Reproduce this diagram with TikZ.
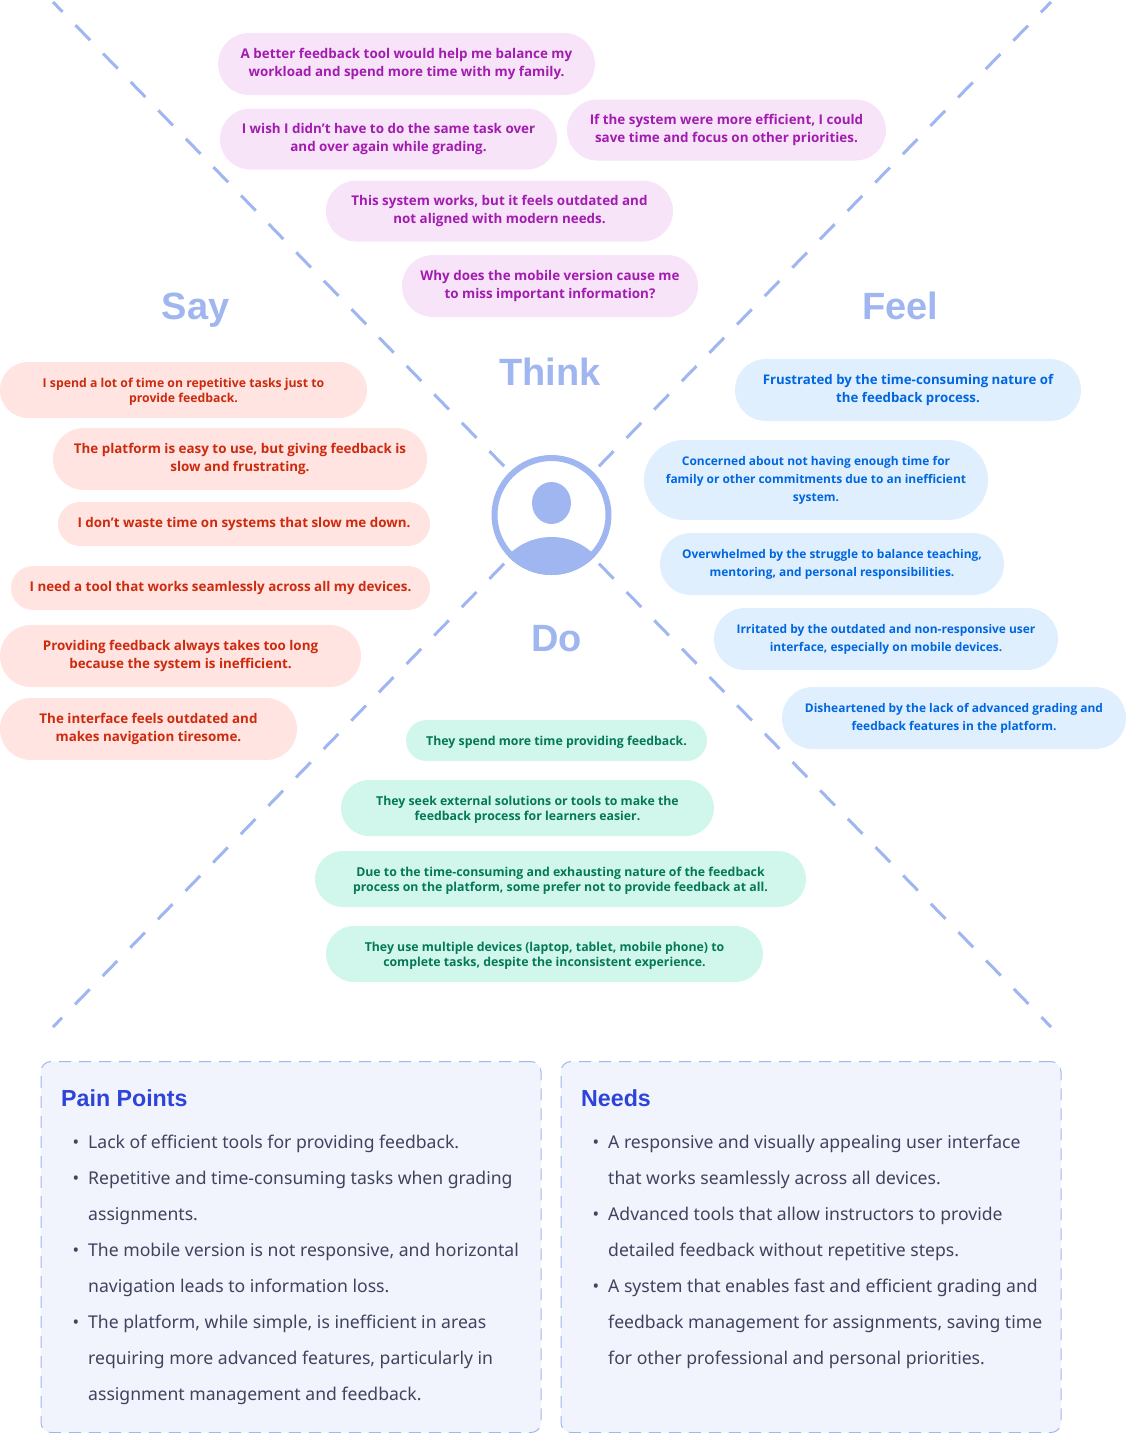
\documentclass[tikz,border=0pt]{standalone}
\usepackage{fontspec}
\setmainfont{Noto Sans}
\newfontfamily\bubblefont{Open Sans}
\newfontfamily\headfont{Liberation Sans}
\usetikzlibrary{positioning,shapes.misc}
\definecolor{lineblue}{HTML}{A0B6F0}
\definecolor{panelfill}{HTML}{F1F4FD}
\definecolor{panelhead}{HTML}{2E44D9}
\definecolor{paneltext}{HTML}{40435E}
\definecolor{thinkfill}{HTML}{F7E4F9}
\definecolor{thinktext}{HTML}{A21CAF}
\definecolor{sayfill}{HTML}{FFE4E1}
\definecolor{saytext}{HTML}{CC2B0E}
\definecolor{feelfill}{HTML}{DFEFFE}
\definecolor{feeltext}{HTML}{0066E0}
\definecolor{dofill}{HTML}{D1F7EC}
\definecolor{dotext}{HTML}{047857}
\newcommand{\dotitem}{\llap{\textbullet\hspace{9pt}}}
\newcommand{\lowerline}{\rule{0pt}{13pt}}
\tikzset{
  bubble/.style={shape=rounded rectangle,inner sep=0pt,align=center},
  thinkbubble/.style={bubble,fill=thinkfill,text=thinktext,font=\fontsize{13.4}{18}\selectfont\bubblefont\bfseries},
  saybubble/.style={bubble,fill=sayfill,text=saytext,font=\fontsize{13.4}{18}\selectfont\bubblefont\bfseries},
  feelbubble/.style={bubble,fill=feelfill,text=feeltext,font=\fontsize{11.95}{18}\selectfont\bubblefont\bfseries},
  dobubble/.style={bubble,fill=dofill,text=dotext,font=\fontsize{12.3}{15}\selectfont\bubblefont\bfseries},
  quadrant/.style={text=lineblue,font=\fontsize{38}{38}\selectfont\headfont\bfseries,inner sep=0pt},
  crossline/.style={lineblue,line width=3pt,dash pattern=on 21pt off 18.6pt,shorten <=8pt},
  panel/.style={draw=lineblue,fill=panelfill,line width=1pt,rounded corners=10pt,dash pattern=on 12pt off 8pt,minimum width=500pt,minimum height=371pt,inner sep=0pt},
  panelhead/.style={text=panelhead,font=\fontsize{23.2}{24}\selectfont\headfont\bfseries,inner sep=0pt,anchor=west},
  panelbody/.style={text=paneltext,font=\fontsize{17.6}{36}\selectfont,inner sep=0pt,align=left,anchor=north west},
}
\begin{document}
\begin{tikzpicture}[x=1pt,y=-1pt]
  \useasboundingbox (0,0) rectangle (1126,1433);
  % the person in the middle
  \node [circle,draw=lineblue,line width=6pt,minimum size=114pt,inner sep=0pt] (avatar) at (551.5,515) {};
  \fill [lineblue] (551.5,503) ellipse (19.5 and 21);
  \begin{scope}
    \clip (551.5,515) circle (60);
    \fill [lineblue] (551.5,598) circle (61);
  \end{scope}
  % dashed cross
  \coordinate (topleft) at (53,2);
  \coordinate (topright) at (1051,2);
  \coordinate (botleft) at (53,1027);
  \coordinate (botright) at (1051,1027);
  \draw [crossline] (avatar) -- (topleft);
  \draw [crossline] (avatar) -- (topright);
  \draw [crossline] (avatar) -- (botleft);
  \draw [crossline] (avatar) -- (botright);
  % headings
  \node [quadrant] (think) at (550,372) {Think};
  \node [quadrant] (say) at (195.5,310) {Say};
  \node [quadrant] (feel) at (900.5,306) {Feel};
  \node [quadrant] (do) at (556.5,639) {Do};
  % think
  \node [thinkbubble,minimum width=377pt,minimum height=62pt] (thinka) at (406.5,64) {A better feedback tool would help me balance my\\workload and spend more time with my family.};
  \node [thinkbubble,minimum width=337pt,minimum height=61pt] (thinkb) at (388.5,139) {I wish I didn’t have to do the same task over\\and over again while grading.};
  \node [thinkbubble,minimum width=319pt,minimum height=61pt] (thinkc) at (726.5,130) {If the system were more efficient, I could\\save time and focus on other priorities.};
  \node [thinkbubble,minimum width=347pt,minimum height=61pt] (thinkd) at (499.5,211) {This system works, but it feels outdated and\\not aligned with modern needs.};
  \node [thinkbubble,minimum width=296pt,minimum height=62pt] (thinke) at (550,286) {Why does the mobile version cause me\\to miss important information?};
  % say
  \node [saybubble,minimum width=367pt,minimum height=56pt,font=\fontsize{12.25}{15}\selectfont\bubblefont\bfseries] (saya) at (183.5,390) {\lowerline I spend a lot of time on repetitive tasks just to\\provide feedback.};
  \node [saybubble,minimum width=374pt,minimum height=62pt] (sayb) at (240,459) {The platform is easy to use, but giving feedback is\\slow and frustrating.};
  \node [saybubble,minimum width=372pt,minimum height=44pt] (sayc) at (244,524) {I don’t waste time on systems that slow me down.};
  \node [saybubble,minimum width=419pt,minimum height=44pt] (sayd) at (220.5,588) {I need a tool that works seamlessly across all my devices.};
  \node [saybubble,minimum width=361pt,minimum height=62pt] (saye) at (180.5,656) {Providing feedback always takes too long\\because the system is inefficient.};
  \node [saybubble,minimum width=297pt,minimum height=62pt] (sayf) at (148.5,729) {The interface feels outdated and\\makes navigation tiresome.};
  % feel
  \node [feelbubble,minimum width=346pt,minimum height=62pt,font=\fontsize{13.25}{18}\selectfont\bubblefont\bfseries] (feela) at (908,390) {Frustrated by the time-consuming nature of\\the feedback process.};
  \node [feelbubble,minimum width=344pt,minimum height=80pt] (feelb) at (816,480) {Concerned about not having enough time for\\family or other commitments due to an inefficient\\system.};
  \node [feelbubble,minimum width=344pt,minimum height=62pt] (feelc) at (832,564) {Overwhelmed by the struggle to balance teaching,\\mentoring, and personal responsibilities.};
  \node [feelbubble,minimum width=344pt,minimum height=62pt] (feeld) at (886,639) {Irritated by the outdated and non-responsive user\\interface, especially on mobile devices.};
  \node [feelbubble,minimum width=344pt,minimum height=62pt] (feele) at (954,718) {Disheartened by the lack of advanced grading and\\feedback features in the platform.};
  % do
  \node [dobubble,minimum width=301pt,minimum height=41pt] (doa) at (556.5,740.5) {\lowerline They spend more time providing feedback.};
  \node [dobubble,minimum width=373pt,minimum height=56pt] (dob) at (527.5,808) {\lowerline They seek external solutions or tools to make the\\feedback process for learners easier.};
  \node [dobubble,minimum width=491pt,minimum height=56pt] (doc) at (560.5,879) {\lowerline Due to the time-consuming and exhausting nature of the feedback\\process on the platform, some prefer not to provide feedback at all.};
  \node [dobubble,minimum width=437pt,minimum height=56pt] (dod) at (544.5,954) {\lowerline They use multiple devices (laptop, tablet, mobile phone) to\\complete tasks, despite the inconsistent experience.};
  % panels
  \node [panel] (pain) at (291,1247) {};
  \node [panel] (needs) at (811,1247) {};
  \node [panelhead] (painhead) at (61,1098) {Pain Points};
  \node [panelhead] (needshead) at (581,1098) {Needs};
  \node [panelbody] (painlist) at (88,1134.5) {\dotitem Lack of efficient tools for providing feedback.\\
    \dotitem Repetitive and time-consuming tasks when grading\\
    assignments.\\
    \dotitem The mobile version is not responsive, and horizontal\\
    navigation leads to information loss.\\
    \dotitem The platform, while simple, is inefficient in areas\\
    requiring more advanced features, particularly in\\
    assignment management and feedback.};
  \node [panelbody] (needslist) at (608,1134.5) {\dotitem A responsive and visually appealing user interface\\
    that works seamlessly across all devices.\\
    \dotitem Advanced tools that allow instructors to provide\\
    detailed feedback without repetitive steps.\\
    \dotitem A system that enables fast and efficient grading and\\
    feedback management for assignments, saving time\\
    for other professional and personal priorities.};
\end{tikzpicture}
\end{document}
